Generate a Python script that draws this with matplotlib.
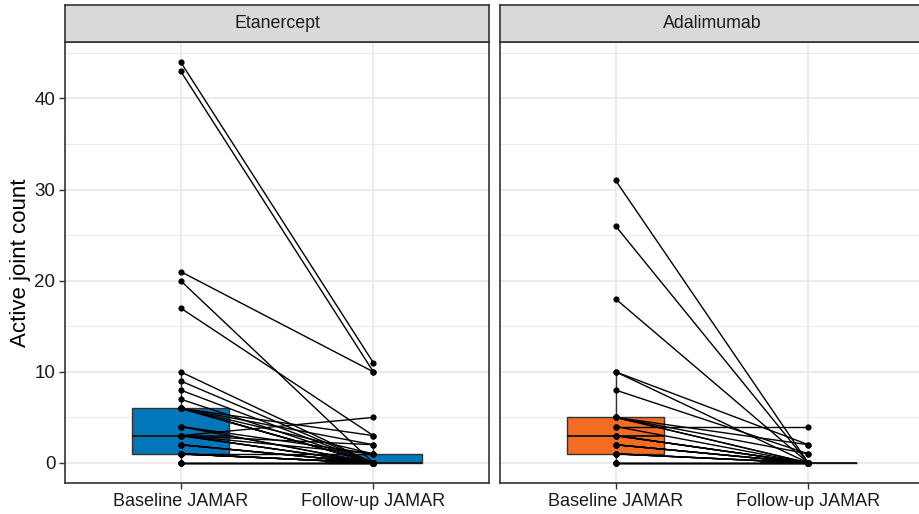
import matplotlib
matplotlib.use("Agg")
import matplotlib.pyplot as plt
from matplotlib.ticker import MultipleLocator

plt.rcParams['font.family'] = ['Liberation Sans', 'DejaVu Sans']

# ---- data ----
timepoints = ["Baseline JAMAR", "Follow-up JAMAR"]
panels = ["Etanercept", "Adalimumab"]

eta_baseline = [44, 43, 21, 20, 17, 10, 9, 8, 7,
                6, 6, 6, 6, 6, 6, 6,
                4, 4, 4,
                3, 3, 3, 3, 3, 3,
                2, 2, 2, 2,
                1, 1, 1, 1, 1, 1, 1,
                0, 0, 0, 0]
eta_followup = [11, 10, 10, 0, 3, 0, 0, 0, 0,
                2, 3, 0, 0, 1, 0, 0,
                0, 1, 0,
                5, 2, 0, 0, 0, 1,
                0, 0, 0, 0,
                1, 0, 0, 0, 0, 0, 0,
                0, 0, 0, 0]

ada_baseline = [31, 26, 18, 10, 10, 8,
                5, 5, 5, 5,
                4, 4,
                3, 3, 3, 3,
                2, 2, 2, 2,
                1, 1, 1, 1,
                0, 0, 0, 0]
ada_followup = [0, 0, 0, 2, 0, 1,
                2, 0, 0, 1,
                4, 0,
                0, 0, 0, 0,
                0, 0, 0, 0,
                0, 0, 0, 0,
                0, 0, 0, 0]

box_colors = ["#0077B8", "#F26C22"]
y_label = "Active joint count"
y_ticks = [0, 10, 20, 30, 40]

# ---- figure ----
W, H = 920, 514
fig = plt.figure(figsize=(W / 100, H / 100), dpi=100)

def fx(px):
    return px / W

def fy(py):
    return 1 - py / H

panel_left = [65, 500]
panel_w = 424
panel_top, panel_bot = 42, 483
strip_top = 5

datasets = [(eta_baseline, eta_followup), (ada_baseline, ada_followup)]
border_col = "#333333"
grid_col = "#EBEBEB"

for i, (name, (b, f), col) in enumerate(zip(panels, datasets, box_colors)):
    ax = fig.add_axes([fx(panel_left[i]), fy(panel_bot), fx(panel_w),
                       (panel_bot - panel_top) / H])
    ax.boxplot([b, f], positions=[1, 2], widths=0.5, patch_artist=True,
               showfliers=False, whis=1.5,
               boxprops=dict(facecolor=col, edgecolor=border_col, lw=1.0),
               medianprops=dict(color="#1a1a1a", lw=1.4),
               whiskerprops=dict(color=border_col, lw=1.0),
               capprops=dict(lw=0), zorder=2)

    for bv, fv in zip(b, f):
        ax.plot([1, 2], [bv, fv], color="black", lw=1.0, zorder=3)
    ax.scatter([1] * len(b), b, s=20, color="black", zorder=4, linewidths=0)
    ax.scatter([2] * len(f), f, s=20, color="black", zorder=4, linewidths=0)

    ax.set_xlim(0.4, 2.6)
    ax.set_ylim(-2.2, 46.2)
    ax.set_facecolor("white")
    ax.yaxis.set_major_locator(MultipleLocator(10))
    ax.yaxis.set_minor_locator(MultipleLocator(5))
    ax.set_xticks([1, 2])
    ax.set_xticklabels(timepoints, fontsize=13, color="#1a1a1a")
    ax.grid(which="major", axis="both", color=grid_col, lw=1.4, zorder=0)
    ax.grid(which="minor", axis="y", color=grid_col, lw=0.8, zorder=0)
    ax.set_axisbelow(True)
    ax.tick_params(axis="x", length=4, width=1, color=border_col, pad=3)
    ax.tick_params(axis="y", which="minor", length=0)
    if i == 0:
        ax.set_yticks(y_ticks)
        ax.set_yticklabels([str(t) for t in y_ticks])
        ax.tick_params(axis="y", which="major", length=4, width=1,
                       color=border_col, labelsize=13.5, labelcolor="#1a1a1a", pad=3)
        ax.set_ylabel(y_label, fontsize=16, labelpad=2)
    else:
        ax.tick_params(axis="y", which="major", length=0, labelleft=False)
    for sp in ax.spines.values():
        sp.set_color(border_col)
        sp.set_linewidth(1.2)

    sax = fig.add_axes([fx(panel_left[i]), fy(panel_top), fx(panel_w),
                        (panel_top - strip_top) / H])
    sax.set_facecolor("#D9D9D9")
    sax.set_xticks([])
    sax.set_yticks([])
    for sp in sax.spines.values():
        sp.set_color(border_col)
        sp.set_linewidth(1.2)
    sax.text(0.5, 0.5, name, ha="center", va="center", fontsize=12.8,
             color="#1a1a1a", transform=sax.transAxes)

fig.savefig("out.png", dpi=100)
